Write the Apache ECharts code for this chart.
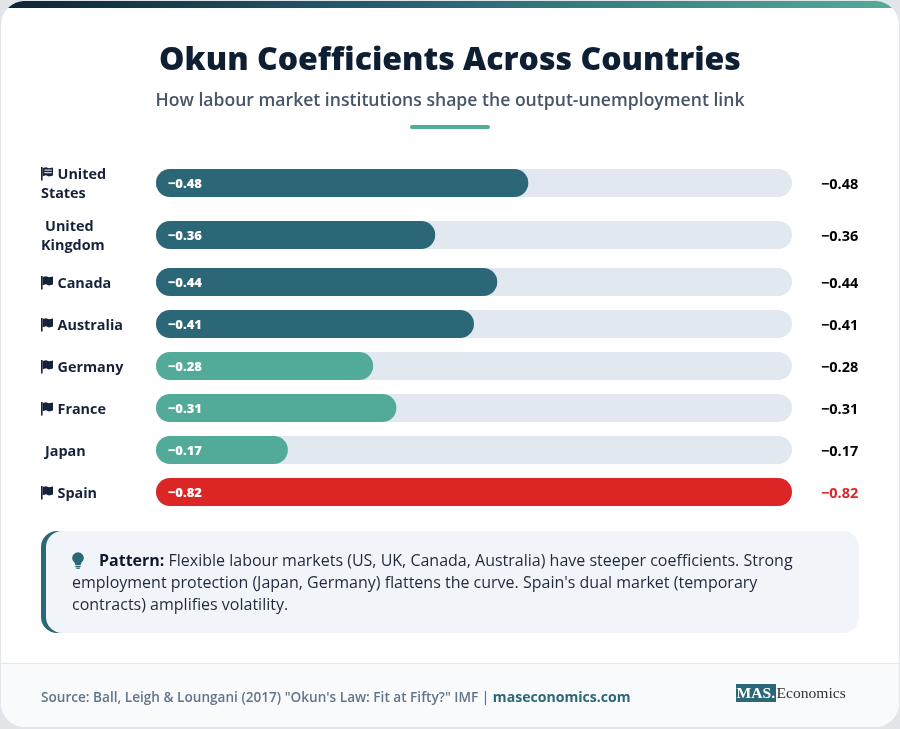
<!DOCTYPE html>
<html>
<head>
<meta charset="utf-8">
<title>Okun Coefficients Across Countries</title>
<style>
html,body{margin:0;padding:0;background:#e2e6ea;}
#chart{width:900px;height:729px;}
</style>
<script src="https://cdn.jsdelivr.net/npm/echarts@6/dist/echarts.min.js"></script>
</head>
<body>
<div id="chart"></div>
<script>
// Okun coefficients by country
const countries = ['United\nStates', 'United\nKingdom', 'Canada', 'Australia', 'Germany', 'France', 'Japan', 'Spain'];
const countryFlags = ['striped', 'none', 'solid', 'solid', 'solid', 'solid', 'none', 'solid'];
const coefficients = [-0.48, -0.36, -0.44, -0.41, -0.28, -0.31, -0.17, -0.82];
const institutionGroups = ['flexible', 'flexible', 'flexible', 'flexible', 'protected', 'protected', 'protected', 'dual'];

const groupColors = { flexible: '#2b6777', protected: '#52ab98', dual: '#dc2626' };
const rowTops = [169, 221, 268, 310, 352, 394, 436, 478];
const BAR_H = 28, FONT = '"Open Sans", "Noto Sans", sans-serif', INK = '#16213a';
const fmt = v => '\u2212' + Math.abs(v).toFixed(2);

const grids = [], xAxes = [], yAxes = [], series = [];
countries.forEach((name, i) => {
  const twoLines = name.includes('\n');
  const endColor = institutionGroups[i] === 'dual' ? '#dc2626' : '#000000';
  grids.push({ left: 156, width: 636, top: rowTops[i], height: BAR_H, containLabel: false });
  // Coefficients are negative; the inverted axis runs them left to right from zero
  xAxes.push({ gridIndex: i, type: 'value', min: -0.82, max: 0, inverse: true, show: false });
  yAxes.push({
    gridIndex: i, type: 'category', data: [name], position: 'left',
    axisLine: { show: false }, axisTick: { show: false }, splitLine: { show: false },
    axisLabel: {
      margin: 115, align: 'left', lineHeight: 19, padding: [twoLines ? 2 : 4, 0, 0, 0],
      fontFamily: FONT, fontSize: 14.4, fontWeight: 700, color: INK,
      // Leave room in front of the first line for the flag icon
      formatter: v => '{' + (countryFlags[i] === 'none' ? 'narrow' : 'wide') + '|}' + v,
      rich: {
        wide: { width: 16.5, height: 1 },
        narrow: { width: 4, height: 1 }
      }
    }
  });
  yAxes.push({
    gridIndex: i, type: 'category', data: [fmt(coefficients[i])], position: 'right',
    axisLine: { show: false }, axisTick: { show: false }, splitLine: { show: false },
    axisLabel: {
      margin: 29, align: 'left', padding: [4, 0, 0, 0],
      fontFamily: FONT, fontSize: 14.5, fontWeight: 700, color: endColor,
      formatter: v => '{end|' + v + '}',
      rich: {
        end: { fontFamily: FONT, fontSize: 14.5, fontWeight: 700, color: endColor }
      }
    }
  });
  series.push({
    type: 'bar', xAxisIndex: i, yAxisIndex: i * 2,
    data: [coefficients[i]], barWidth: BAR_H,
    showBackground: true,
    backgroundStyle: { color: '#e2e8f0', borderRadius: 14 },
    itemStyle: { color: groupColors[institutionGroups[i]], borderRadius: 14 },
    label: {
      show: true, position: 'insideLeft', offset: [8, 1], distance: 4,
      formatter: p => fmt(p.value),
      color: '#ffffff', fontFamily: FONT, fontSize: 13, fontWeight: 800
    },
    silent: true
  });
});

const txt = (x, y, text, font, fill, extra) => ({
  type: 'text', z: 5, silent: true,
  style: Object.assign({ x, y, text, font, fill, textVerticalAlign: 'middle' }, extra || {})
});
const bodyFont = '400 16px ' + FONT;

// Outline of the card's top strip: follows the rounded corners down to stripBottom
function stripOutline(left, right, top, radius, stripBottom) {
  const pts = [], steps = 12;
  const start = Math.asin((radius - (stripBottom - top)) / radius);
  for (let s = 0; s <= steps; s++) {
    const a = start + (Math.PI / 2 - start) * s / steps;
    pts.push([left + radius - radius * Math.cos(a), top + radius - radius * Math.sin(a)]);
  }
  for (let s = steps; s >= 0; s--) {
    const a = start + (Math.PI / 2 - start) * s / steps;
    pts.push([right - radius + radius * Math.cos(a), top + radius - radius * Math.sin(a)]);
  }
  return pts;
}

// Small waving flag icon placed in front of a country name
function flagIcon(kind, y) {
  const x = 41;
  const parts = [
    { type: 'rect', z: 5, silent: true, shape: { x, y, width: 1.6, height: 13.5 }, style: { fill: INK } },
    { type: 'polygon', z: 5, silent: true,
      shape: { points: [[x + 1.6, y + 1], [x + 5, y + 0.2], [x + 8, y + 1.3], [x + 12, y + 0.5],
                        [x + 12, y + 8.6], [x + 8, y + 9.4], [x + 5, y + 8.3], [x + 1.6, y + 9.2]] },
      style: { fill: INK } }
  ];
  if (kind === 'striped') {
    [2.6, 5.2].forEach(dy => parts.push({
      type: 'rect', z: 6, silent: true,
      shape: { x: x + 3.4, y: y + dy, width: 7.4, height: 1 }, style: { fill: '#ffffff' }
    }));
  }
  return parts;
}
const flagIcons = [];
countryFlags.forEach((kind, i) => {
  if (kind === 'none') return;
  const twoLines = countries[i].includes('\n');
  flagIcons.push(...flagIcon(kind, rowTops[i] + (twoLines ? -2 : 8)));
});

const graphic = [
  // Card, top accent strip and footer panel
  { type: 'rect', z: -5, silent: true, shape: { x: 1, y: 1, width: 898, height: 726, r: 24 }, style: { fill: '#ffffff' } },
  { type: 'polygon', z: -4, silent: true, shape: { points: stripOutline(1, 899, 1, 24, 8) },
    style: { fill: new echarts.graphic.LinearGradient(0, 0, 1, 0, [
      { offset: 0, color: '#0f2438' }, { offset: 0.5, color: '#2b6777' }, { offset: 1, color: '#52ab98' }
    ]) } },
  { type: 'rect', z: -4, silent: true, shape: { x: 1, y: 663, width: 898, height: 64, r: [0, 0, 24, 24] }, style: { fill: '#f8fafc' } },
  { type: 'rect', z: -3, silent: true, shape: { x: 1, y: 663, width: 898, height: 1 }, style: { fill: '#e2e8f0' } },

  // Heading block
  txt(450, 61, 'Okun Coefficients Across Countries', '800 32px ' + FONT, '#0f1f33', { textAlign: 'center' }),
  txt(450, 101, 'How labour market institutions shape the output-unemployment link', '600 17.6px ' + FONT, '#475569', { textAlign: 'center' }),
  { type: 'rect', z: 5, silent: true, shape: { x: 410, y: 125, width: 80, height: 4, r: 2 }, style: { fill: '#52ab98' } },

  ...flagIcons,

  // Callout with crescent left edge
  { type: 'rect', z: -3, silent: true, shape: { x: 41, y: 531, width: 40, height: 102, r: [16, 0, 0, 16] }, style: { fill: '#2b6777' } },
  { type: 'rect', z: -2, silent: true, shape: { x: 46, y: 531, width: 813, height: 102, r: 16 }, style: { fill: '#f1f5f9' } },
  // Light bulb icon
  { type: 'circle', z: 5, silent: true, shape: { cx: 78, cy: 558, r: 5.8 }, style: { fill: '#2b6777' } },
  { type: 'polygon', z: 5, silent: true, shape: { points: [[74.2, 561], [81.8, 561], [80.6, 565.2], [75.4, 565.2]] }, style: { fill: '#2b6777' } },
  { type: 'rect', z: 5, silent: true, shape: { x: 75.4, y: 566, width: 5.2, height: 1.2 }, style: { fill: '#2b6777' } },
  { type: 'rect', z: 5, silent: true, shape: { x: 76.2, y: 567.6, width: 3.6, height: 1.2 }, style: { fill: '#2b6777' } },
  txt(99, 561, '{b|Pattern:} Flexible labour markets (US, UK, Canada, Australia) have steeper coefficients. Strong', bodyFont, '#1e293b', {
    rich: { b: { font: '700 16px ' + FONT, fill: '#0f172a' } }
  }),
  txt(72, 583, 'employment protection (Japan, Germany) flattens the curve. Spain\'s dual market (temporary', bodyFont, '#1e293b'),
  txt(72, 605, 'contracts) amplifies volatility.', bodyFont, '#1e293b'),

  // Source line and wordmark
  txt(41, 698, 'Source: Ball, Leigh & Loungani (2017) "Okun\'s Law: Fit at Fifty?" IMF | {b|maseconomics.com}', '600 13.6px ' + FONT, '#64748b', {
    rich: { b: { font: '700 14.1px ' + FONT, fill: '#2b6777' } }
  }),
  { type: 'rect', z: 5, silent: true, shape: { x: 736, y: 684, width: 40, height: 18 }, style: { fill: '#2b6777' } },
  txt(736.5, 694, 'MAS.', '700 15.6px "Liberation Serif", serif', '#ffffff'),
  txt(776.5, 694, 'Economics', '400 15.6px "Liberation Serif", serif', '#333333')
];

const chart = echarts.init(document.getElementById('chart'), null, { renderer: 'canvas' });
chart.setOption({
  animation: false,
  backgroundColor: '#e2e6ea',
  grid: grids, xAxis: xAxes, yAxis: yAxes, series, graphic
});
</script>
</body>
</html>
